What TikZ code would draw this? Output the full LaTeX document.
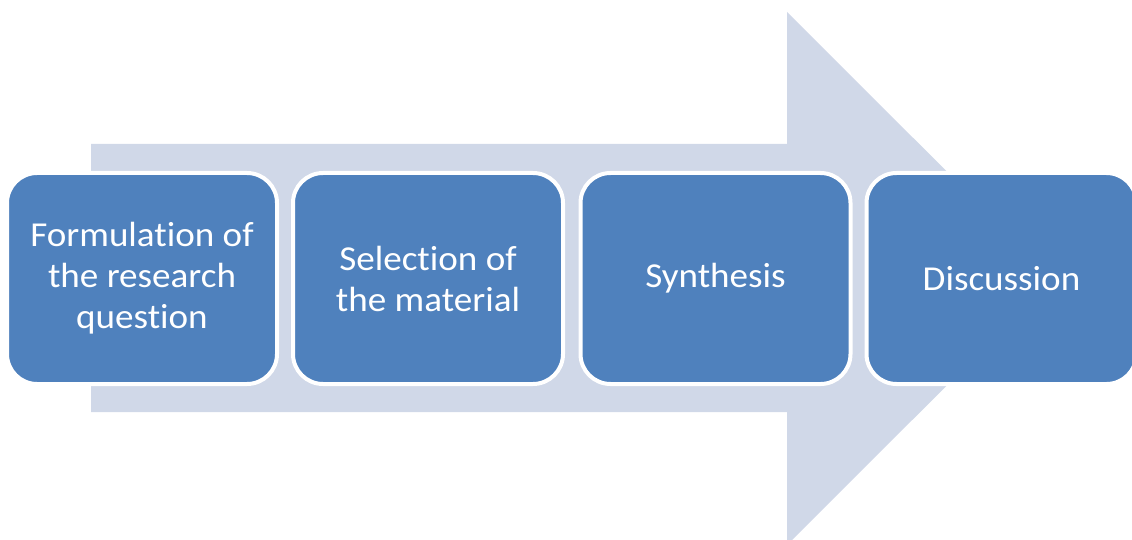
\documentclass[tikz,border=0pt]{standalone}
\usepackage{fontspec}
\setmainfont{Carlito}[FakeStretch=1.06,Ligatures={NoCommon}]
\definecolor{boxblue}{HTML}{4F81BD}
\definecolor{arrowgray}{HTML}{D0D8E8}
\begin{document}
\begin{tikzpicture}[x=1pt,y=-1pt,
  stepbox/.style={draw=white, line width=4pt, fill=boxblue, rounded corners=30pt,
    minimum width=270pt, minimum height=211pt, inner sep=0pt, text=white,
    align=center, font=\fontsize{35}{41}\selectfont},
  bigarrow/.style={fill=arrowgray, draw=none}]
\useasboundingbox (0,0) rectangle (1132,540);
\clip (0,0) rectangle (1132,540);
\fill[bigarrow] (91,144) -- (787,144) -- (787,12) -- (1054,278.5) -- (787,545) -- (787,412) -- (91,412) -- cycle;
\node[stepbox] (s1) at (142,278.5) {Formulation of\\the research\\question};
\node[stepbox] (s2) at (428,278.5) {Selection of\\the material};
\node[stepbox] (s3) at (715.5,278.5) {Synthesis};
\node[stepbox] (s4) at (1001.5,278.5) {Discussion};
\end{tikzpicture}
\end{document}
